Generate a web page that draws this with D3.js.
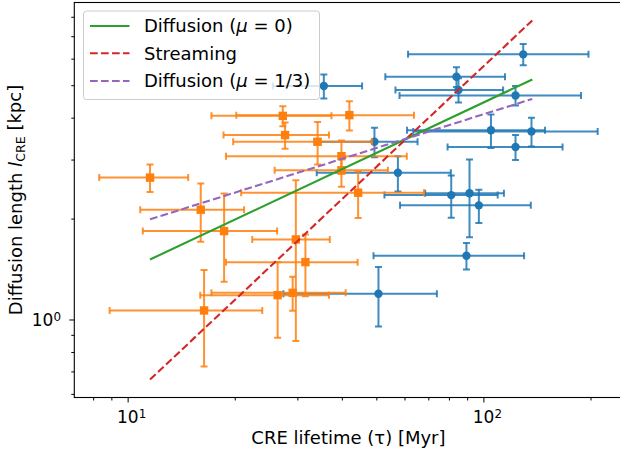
<!DOCTYPE html>
<html><head><meta charset="utf-8">
<script src="https://cdn.jsdelivr.net/npm/d3@7"></script>
<style>body{margin:0;background:#fff} svg{display:block} text{font-family:"DejaVu Sans",sans-serif;fill:#000}</style>
</head><body><svg id="c" width="620" height="454"></svg>
<script>
// ---- data ----
// series A (blue circles)
const seriesATau    = [129.4, 84.0, 85.1, 123.1, 35.6, 105.0, 136.5, 123.1, 49.4, 57.5, 81.2, 91.4, 97.1, 89.6, 50.7];
const seriesATauErr = [68, 31, 28.5, 65, 10, 44, 73, 43.8, 15.9, 23.5, 28.5, 22.8, 38.8, 40.5, 23.3];
const seriesAL      = [6.18, 5.30, 4.84, 4.66, 4.97, 3.67, 3.64, 3.27, 3.39, 2.74, 2.35, 2.38, 2.19, 1.55, 1.193];
const seriesALErr   = [0.45, 0.36, 0.40, 0.31, 0.41, 0.42, 0.36, 0.28, 0.34, 0.33, 0.34, 0.62, 0.25, 0.14, 0.24];
// series B (orange squares)
const seriesBTau    = [11.56, 16.05, 18.67, 29.7, 31.6, 26.4, 29.1, 16.4, 27.3, 42.0, 27.7, 34.2, 39.9, 39.9, 44.45];
const seriesBTauErr = [3.24, 5.2, 7.64, 7.3, 12.7, 10.4, 11.9, 7.5, 10.1, 21.8, 9.1, 14.4, 21, 14, 23.6];
const seriesBL      = [2.65, 2.126, 1.835, 1.733, 1.483, 1.182, 1.201, 1.064, 4.05, 4.07, 3.55, 3.39, 3.07, 2.787, 2.389];
const seriesBLErr   = [0.25, 0.42, 0.54, 0.87, 0.31, 0.30, 0.14, 0.34, 0.28, 0.41, 0.32, 0.49, 0.35, 0.30, 0.38];
// model lines (end points)
const lineLabels = ["Diffusion (μ = 0)", "Streaming", "Diffusion (μ = 1/3)"];
const lineTau = [11.56, 137.2];
const lineDiffusion0 = [1.51, 5.2];
const lineStreaming = [0.662, 7.8];
const lineDiffusion13 = [1.99, 4.55];
// ticks
const xMajorTicks = [10, 100];
const xMajorLabels = [["10","1"], ["10","2"]];
const xMinorTicks = [8, 9, 20, 30, 40, 50, 60, 70, 80, 90, 200];
const yMajorTicks = [1];
const yMajorLabels = [["10","0"]];
const yMinorTicks = [0.6, 0.7, 0.8, 0.9, 2, 3, 4, 5, 6, 7, 8];

// ---- layout ----
const svg = d3.select("#c");
const L = 74.3, R = 622.6, T = 2.5, B = 397.5;
const C = {blue:"#1f77b4", orange:"#ff7f0e", green:"#2ca02c", red:"#d62728", purple:"#9467bd"};

function logDomain(vals){
  const lo = Math.log10(d3.min(vals)), hi = Math.log10(d3.max(vals));
  const m = (hi - lo) * 0.05;
  return [Math.pow(10, lo - m), Math.pow(10, hi + m)];
}
const allX = [].concat(
  seriesATau.map((t,i)=>t-seriesATauErr[i]), seriesATau.map((t,i)=>t+seriesATauErr[i]),
  seriesBTau.map((t,i)=>t-seriesBTauErr[i]), seriesBTau.map((t,i)=>t+seriesBTauErr[i]), lineTau);
const allY = [].concat(
  seriesAL.map((v,i)=>v-seriesALErr[i]), seriesAL.map((v,i)=>v+seriesALErr[i]),
  seriesBL.map((v,i)=>v-seriesBLErr[i]), seriesBL.map((v,i)=>v+seriesBLErr[i]),
  lineDiffusion0, lineStreaming, lineDiffusion13);

const x = d3.scaleLog().domain(logDomain(allX)).range([L, R]);
const y = d3.scaleLog().domain(logDomain(allY)).range([B, T]);

const clip = svg.append("defs").append("clipPath").attr("id","clp")
  .append("rect").attr("x",L).attr("y",T).attr("width",R-L).attr("height",B-T);
const plot = svg.append("g").attr("clip-path","url(#clp)");

function errSeries(tau, tauErr, l, lErr, color, shape){
  const g = plot.append("g");
  const data = tau.map((t,i)=>({t, te:tauErr[i], l:l[i], le:lErr[i]}));
  const bars = g.append("g").attr("stroke", color).attr("stroke-width", 2).attr("stroke-opacity", 0.85);
  data.forEach(d=>{
    bars.append("line").attr("x1", x(d.t-d.te)).attr("x2", x(d.t+d.te)).attr("y1", y(d.l)).attr("y2", y(d.l));
    bars.append("line").attr("x1", x(d.t)).attr("x2", x(d.t)).attr("y1", y(d.l-d.le)).attr("y2", y(d.l+d.le));
  });
  const caps = g.append("g").attr("stroke", color).attr("stroke-width", 2).attr("stroke-opacity", 0.85);
  const cs = 3.5;
  data.forEach(d=>{
    [d.t-d.te, d.t+d.te].forEach(v=>caps.append("line").attr("x1", x(v)).attr("x2", x(v)).attr("y1", y(d.l)-cs).attr("y2", y(d.l)+cs));
    [d.l-d.le, d.l+d.le].forEach(v=>caps.append("line").attr("x1", x(d.t)-cs).attr("x2", x(d.t)+cs).attr("y1", y(v)).attr("y2", y(v)));
  });
  const mk = g.append("g").attr("fill", color);
  data.forEach(d=>{
    if(shape==="circle") mk.append("circle").attr("cx", x(d.t)).attr("cy", y(d.l)).attr("r", 4.2);
    else mk.append("rect").attr("x", x(d.t)-4.2).attr("y", y(d.l)-4.2).attr("width", 8.4).attr("height", 8.4);
  });
}
errSeries(seriesATau, seriesATauErr, seriesAL, seriesALErr, C.blue, "circle");
errSeries(seriesBTau, seriesBTauErr, seriesBL, seriesBLErr, C.orange, "square");

const lineDefs = [
  {vals: lineDiffusion0, color: C.green, dash: null},
  {vals: lineStreaming, color: C.red, dash: "7.7,3.3"},
  {vals: lineDiffusion13, color: C.purple, dash: "7.7,3.3"}
];
const lineGen = d3.line().x(d=>x(d[0])).y(d=>y(d[1]));
lineDefs.forEach(ld=>{
  plot.append("path").datum(lineTau.map((t,i)=>[t, ld.vals[i]]))
    .attr("d", lineGen).attr("fill","none").attr("stroke", ld.color).attr("stroke-width", 2.1)
    .attr("stroke-dasharray", ld.dash);
});

// ---- axes ----
const tickFont = 17;
const xAxisMajor = d3.axisBottom(x).tickValues(xMajorTicks).tickSize(5).tickPadding(6).tickFormat(()=>"");
const xAxisMinor = d3.axisBottom(x).tickValues(xMinorTicks).tickSize(3).tickFormat(()=>"");
const gx = svg.append("g").attr("transform", `translate(0,${B})`).call(xAxisMajor);
svg.append("g").attr("transform", `translate(0,${B})`).call(xAxisMinor);
const yAxisMajor = d3.axisLeft(y).tickValues(yMajorTicks).tickSize(5).tickFormat(()=>"");
const yAxisMinor = d3.axisLeft(y).tickValues(yMinorTicks).tickSize(3).tickFormat(()=>"");
svg.append("g").attr("transform", `translate(${L},0)`).call(yAxisMajor);
svg.append("g").attr("transform", `translate(${L},0)`).call(yAxisMinor);
svg.selectAll(".domain").remove();
svg.selectAll(".tick line").attr("stroke","#000").attr("stroke-width",1);

function powLabel(sel, parts){
  sel.append("tspan").text(parts[0]);
  sel.append("tspan").attr("dy","-0.45em").attr("font-size","70%").text(parts[1]);
}
xMajorTicks.forEach((v,i)=>{
  const t = svg.append("text").attr("x", x(v)+4).attr("y", 423).attr("text-anchor","middle").attr("font-size", tickFont);
  powLabel(t, xMajorLabels[i]);
});
yMajorTicks.forEach((v,i)=>{
  const t = svg.append("text").attr("x", 61).attr("y", y(v)+6.5).attr("text-anchor","end").attr("font-size", tickFont);
  powLabel(t, yMajorLabels[i]);
});

// spines
svg.append("rect").attr("x", L).attr("y", T).attr("width", R-L).attr("height", B-T)
  .attr("fill","none").attr("stroke","#000").attr("stroke-width",1.1);

// axis labels
const labFont = 18;
svg.append("text").attr("x", (L+R)/2).attr("y", 444).attr("text-anchor","middle").attr("font-size", labFont)
  .text("CRE lifetime (τ) [Myr]");
const yl = svg.append("text").attr("transform", `translate(22,${(T+B)/2}) rotate(-90)`).attr("text-anchor","middle").attr("font-size", labFont);
yl.append("tspan").text("Diffusion length ");
yl.append("tspan").attr("font-style","italic").text("l");
yl.append("tspan").attr("font-size","70%").attr("dy","0.25em").text("CRE");
yl.append("tspan").attr("dy","-0.25em").text(" [kpc]");

// legend
const lg = svg.append("g");
lg.append("rect").attr("x", 83.5).attr("y", 11).attr("width", 236).attr("height", 88.5).attr("rx", 3)
  .attr("fill","#fff").attr("fill-opacity",0.8).attr("stroke","#cccccc").attr("stroke-width",1);
const rowsY = [26, 53.3, 81];
lineDefs.forEach((ld,i)=>{
  lg.append("line").attr("x1", 90).attr("x2", 129.5).attr("y1", rowsY[i]).attr("y2", rowsY[i])
    .attr("stroke", ld.color).attr("stroke-width", 2.1).attr("stroke-dasharray", ld.dash);
  const t = lg.append("text").attr("x", 144).attr("y", rowsY[i]+6.3).attr("font-size", labFont);
  const lab = lineLabels[i];
  const m = lab.indexOf("μ");
  if(m >= 0){
    t.append("tspan").text(lab.slice(0, m));
    t.append("tspan").attr("font-style","italic").text("μ");
    t.append("tspan").text(lab.slice(m+1));
  } else t.text(lab);
});
</script></body></html>
